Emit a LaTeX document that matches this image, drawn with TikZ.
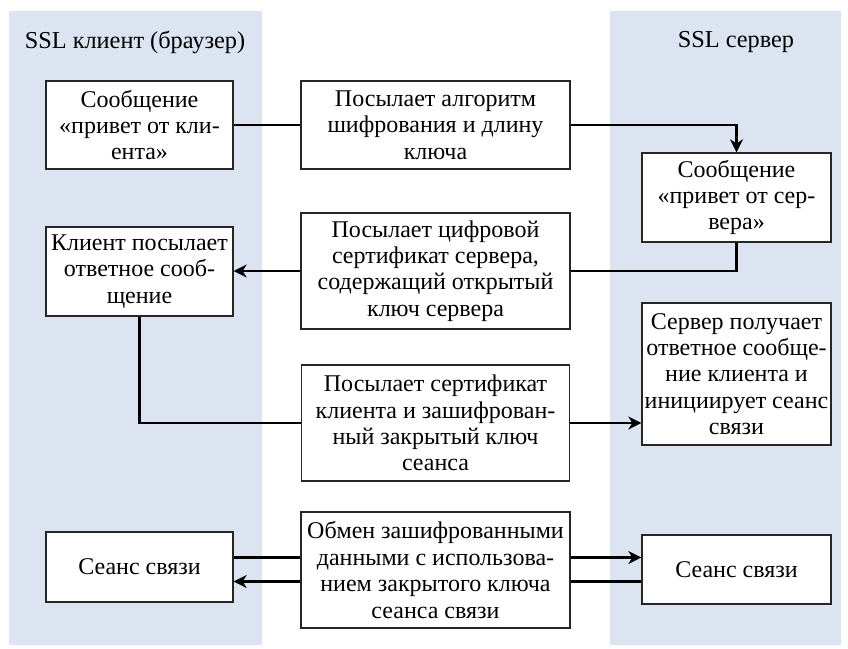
\documentclass[tikz,border=0pt]{standalone}
\usepackage{fontspec}
\setmainfont{Liberation Serif}
\usetikzlibrary{arrows.meta}
\definecolor{lane}{RGB}{219,228,240}
\tikzset{
  msg/.style={draw=black!85, line width=1.3pt, fill=white, inner sep=0pt,
    align=center, font=\fontsize{24}{26.4}\selectfont},
  lanetitle/.style={font=\fontsize{24.3}{26.4}\selectfont, inner sep=0pt},
  link/.style={line width=2.2pt, black},
  flow/.style={link, -{Stealth[length=13pt, width=13pt, inset=4pt]}}
}
\begin{document}
\begin{tikzpicture}[x=1pt, y=-1pt]
\useasboundingbox (0,0) rectangle (848,648);
% swim lanes
\fill[lane] (9,11) rectangle (262,645);
\fill[lane] (610,11) rectangle (841,645);
\node[lanetitle] (tclient) at (135,42) {SSL клиент (браузер)};
\node[lanetitle] (tserver) at (736,42) {SSL сервер};

% messages
\node[msg, minimum width=187pt, minimum height=88pt] (hello) at (139.5,125)
  {Сообщение\\«привет от кли-\\ента»};
\node[msg, minimum width=269pt, minimum height=88pt] (algo) at (435.5,125)
  {Посылает алгоритм\\шифрования и длину\\ключа};
\node[msg, minimum width=189pt, minimum height=89pt] (shello) at (736.5,197.5)
  {Сообщение\\«привет от сер-\\вера»};
\node[msg, minimum width=187pt, minimum height=89pt] (reply) at (139.5,271.5)
  {Клиент посылает\\ответное сооб-\\щение};
\node[msg, minimum width=269pt, minimum height=116pt] (cert) at (435.5,271)
  {Посылает цифровой\\сертификат сервера,\\содержащий открытый\\ключ сервера};
\node[msg, minimum width=189pt, minimum height=142pt] (recv) at (736.5,374)
  {Сервер получает\\ответное сообще-\\ние клиента и\\инициирует сеанс\\связи};
\node[msg, minimum width=268pt, minimum height=116pt] (ccert) at (435.5,423)
  {Посылает сертификат\\клиента и зашифрован-\\ный закрытый ключ\\сеанса};
\node[msg, minimum width=269pt, minimum height=116pt] (xchg) at (435.5,570)
  {Обмен зашифрованными\\данными с использова-\\нием закрытого ключа\\сеанса связи};
\node[msg, minimum width=187pt, minimum height=70pt] (sessc) at (139.5,567)
  {Сеанс связи};
\node[msg, minimum width=189pt, minimum height=69pt] (sesss) at (736.5,569.5)
  {Сеанс связи};

% connectors
\draw[link] (hello.east) -- (algo.west);
\draw[flow] (algo.east) -| (shello.north);
\draw[link] (shello.south) |- (cert.east);
\draw[flow] (cert.west) -- (reply.east |- cert.west);
\draw[link] (reply.south) |- (ccert.west);
\draw[flow] (ccert.east) -- (recv.west |- ccert.east);
% two-way exchange: upper line to the server, lower line back to the client
\coordinate (xup) at ([yshift=12.5pt]xchg.center);
\coordinate (xdn) at ([yshift=-11.5pt]xchg.center);
\draw[link] (sessc.east |- xup) -- (xchg.west |- xup);
\draw[flow] (xchg.east |- xup) -- (sesss.west |- xup);
\draw[link] (sesss.west |- xdn) -- (xchg.east |- xdn);
\draw[flow] (xchg.west |- xdn) -- (sessc.east |- xdn);
\end{tikzpicture}
\end{document}
